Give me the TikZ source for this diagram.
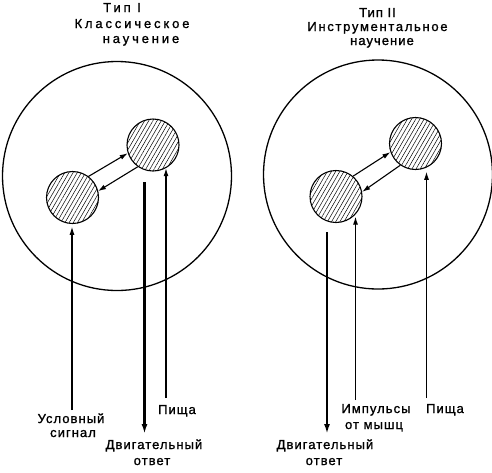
\documentclass[tikz,border=0pt]{standalone}
\usepackage{fontspec}
\setmainfont{Liberation Sans}
\newfontfamily\lblfont{Liberation Sans}[LetterSpace=8,FakeBold=1.2]
\newfontfamily\midfont{Liberation Sans}[LetterSpace=13,FakeBold=1.2]
\newfontfamily\ttlfont{Liberation Sans}[LetterSpace=22,FakeBold=1.2]
\usetikzlibrary{arrows.meta,patterns.meta}
\begin{document}
\begin{tikzpicture}[x=1pt,y=-1pt,
  bigc/.style={draw,circle,line width=1.3pt,minimum size=229pt,inner sep=0pt},
  smallc/.style={draw,circle,line width=1.1pt,minimum size=52pt,inner sep=0pt,
    pattern={Lines[angle=60,distance=3.6pt,line width=0.5pt]}},
  arr/.style={line width=1.1pt,-{Latex[length=8pt,width=5pt]}},
  motor/.style={line width=2.5pt,-{Latex[length=10pt,width=6pt]}},
  lbl/.style={font=\lblfont\fontsize{13}{15}\selectfont,inner sep=0pt,anchor=base},
  mid/.style={font=\midfont\fontsize{13}{15}\selectfont,inner sep=0pt,anchor=base},
  ttl/.style={font=\ttlfont\fontsize{13}{15}\selectfont,inner sep=0pt,anchor=base}]
\useasboundingbox (0,0) rectangle (492,472);
% big circles
\node[bigc] (L) at (117,176) {};
\node[bigc] (R) at (378,174.5) {};
% small circles
\node[smallc] (A) at (72.5,197.5) {};
\node[smallc] (B) at (153,145) {};
\node[smallc] (C) at (336,196.5) {};
\node[smallc] (D) at (415.5,143.5) {};
% arrows between small circles
\draw[arr] (A.53) -- (B.198);
\draw[arr] (B.235) -- (A.14);
\draw[arr] (C.50) -- (D.199);
\draw[arr] (D.235) -- (C.10);
% free ends
\coordinate (cs) at (72,410);
\coordinate (m1s) at (144.5,182);
\coordinate (m1e) at (144.5,434);
\coordinate (p1) at (166,398);
\coordinate (m2s) at (327,232);
\coordinate (m2e) at (327,434);
\coordinate (im) at (355.5,400);
\coordinate (p2) at (426.5,398);
% vertical lines
\draw[arr,shorten >=3pt] (cs) -- (cs |- A.south);
\draw[motor] (m1s) -- (m1e);
\draw[arr] (p1) -- (p1 |- B.-61);
\draw[motor] (m2s) -- (m2e);
\draw[arr,shorten >=2pt] (im) -- (im |- C.-43);
\draw[arr,shorten >=4pt] (p2) -- (p2 |- D.-66);
% titles
\node[ttl] (t1a) at (122,12) {Тип I};
\node[ttl] (t1b) at (132,28) {Классическое};
\node[ttl] (t1c) at (141,43) {научение};
\node[lbl] (t2a) at (377.5,17) {Тип II};
\node[mid] (t2b) at (377.5,31) {Инструментальное};
\node[lbl] (t2c) at (382,45) {научение};
% labels left
\node[lbl] (us1) at (71,423) {Условный};
\node[lbl] (us2) at (73,437) {сигнал};
\node[lbl] (pi1) at (177,414) {Пища};
\node[lbl] (dv1) at (154,449) {Двигательный};
\node[lbl] (ot1) at (152,465) {ответ};
% labels right
\node[lbl] (ip1) at (376,413) {Импульсы};
\node[lbl] (ip2) at (374,429) {от мышц};
\node[lbl] (pi2) at (445,413) {Пища};
\node[lbl] (dv2) at (325,449) {Двигательный};
\node[lbl] (ot2) at (324,465) {ответ};
\end{tikzpicture}
\end{document}
